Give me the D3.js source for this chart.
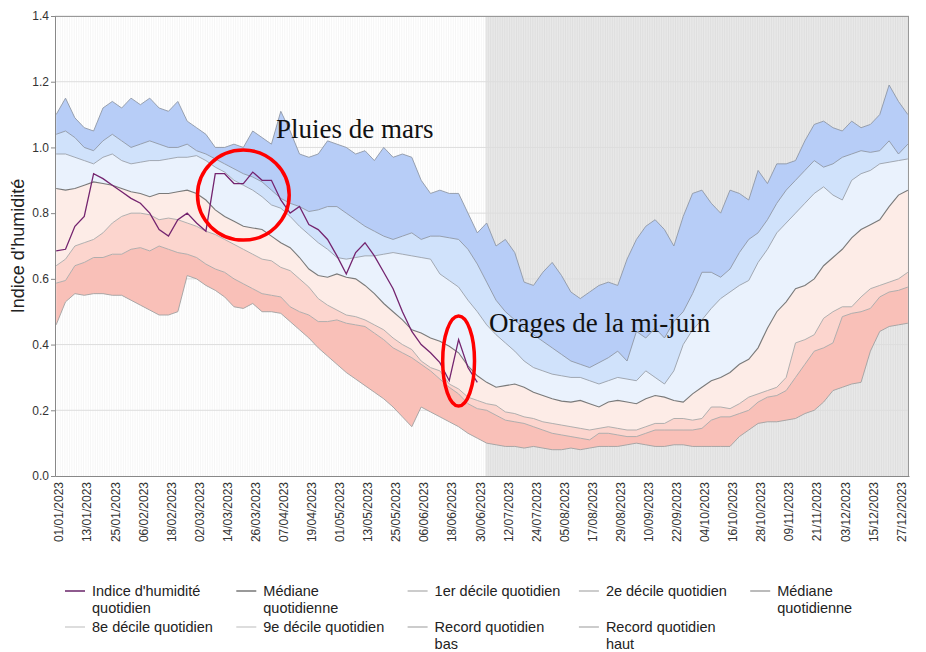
<!DOCTYPE html>
<html>
<head>
<meta charset="utf-8">
<script src="https://cdn.jsdelivr.net/npm/d3@7"></script>
<style>
  body { margin: 0; background: #fff; }
  text { font-family: "Liberation Sans", Arial, sans-serif; }
</style>
</head>
<body>
<div id="chart"></div>
<script>
// categories: every day of 2023, values are sampled every 4 days
var start = new Date(2023, 0, 1);
var days = d3.timeDay.range(start, new Date(2024, 0, 1));
var sampleDays = d3.range(0, days.length, 4);

var tickLabels = ["01/01/2023", "13/01/2023", "25/01/2023", "06/02/2023", "18/02/2023", "02/03/2023",
  "14/03/2023", "26/03/2023", "07/04/2023", "19/04/2023", "01/05/2023", "13/05/2023", "25/05/2023",
  "06/06/2023", "18/06/2023", "30/06/2023", "12/07/2023", "24/07/2023", "05/08/2023", "17/08/2023",
  "29/08/2023", "10/09/2023", "22/09/2023", "04/10/2023", "16/10/2023", "28/10/2023", "09/11/2023",
  "21/11/2023", "03/12/2023", "15/12/2023", "27/12/2023"];
var yTicks = [0, 0.2, 0.4, 0.6, 0.8, 1.0, 1.2, 1.4];

var recordHaut = [1.10, 1.15, 1.09, 1.06, 1.05, 1.12, 1.14, 1.12, 1.15, 1.13,
  1.15, 1.12, 1.11, 1.14, 1.08, 1.06, 1.04, 1.00, 1.00, 1.01,
  1.00, 1.05, 1.03, 1.01, 1.11, 1.05, 0.98, 0.97, 0.98, 1.02,
  1.01, 1.00, 0.98, 0.99, 0.96, 1.00, 0.97, 0.98, 0.97, 0.90,
  0.86, 0.87, 0.86, 0.86, 0.80, 0.74, 0.77, 0.70, 0.72, 0.68,
  0.59, 0.58, 0.62, 0.65, 0.61, 0.56, 0.54, 0.56, 0.58, 0.59,
  0.58, 0.66, 0.72, 0.76, 0.78, 0.75, 0.70, 0.79, 0.86, 0.87,
  0.83, 0.80, 0.87, 0.86, 0.84, 0.93, 0.89, 0.95, 0.95, 0.96,
  1.02, 1.07, 1.08, 1.06, 1.05, 1.08, 1.06, 1.07, 1.10, 1.19,
  1.14, 1.10];
var decile9 = [1.04, 1.05, 1.03, 1.00, 0.99, 1.02, 1.04, 1.02, 1.00, 1.01,
  1.02, 1.01, 1.00, 1.00, 1.01, 0.99, 0.98, 0.965, 0.95, 0.935,
  0.92, 0.91, 0.895, 0.87, 0.845, 0.83, 0.82, 0.805, 0.81, 0.82,
  0.82, 0.80, 0.78, 0.76, 0.745, 0.73, 0.72, 0.73, 0.74, 0.72,
  0.73, 0.73, 0.725, 0.72, 0.69, 0.645, 0.59, 0.535, 0.50, 0.475,
  0.45, 0.43, 0.41, 0.39, 0.37, 0.35, 0.34, 0.33, 0.345, 0.36,
  0.38, 0.35, 0.44, 0.42, 0.45, 0.42, 0.47, 0.50, 0.555, 0.62,
  0.62, 0.605, 0.63, 0.68, 0.72, 0.74, 0.78, 0.83, 0.87, 0.90,
  0.93, 0.96, 0.94, 0.95, 0.97, 0.98, 0.99, 0.985, 0.99, 1.02,
  0.98, 1.01];
var decile8 = [0.98, 0.98, 0.97, 0.96, 0.95, 0.97, 0.98, 0.96, 0.95, 0.955,
  0.96, 0.96, 0.965, 0.97, 0.97, 0.975, 0.96, 0.94, 0.925, 0.90,
  0.885, 0.87, 0.85, 0.825, 0.815, 0.79, 0.76, 0.735, 0.71, 0.69,
  0.665, 0.66, 0.665, 0.67, 0.67, 0.675, 0.68, 0.675, 0.67, 0.665,
  0.66, 0.615, 0.595, 0.575, 0.535, 0.50, 0.46, 0.43, 0.405, 0.38,
  0.35, 0.33, 0.32, 0.31, 0.305, 0.30, 0.30, 0.29, 0.28, 0.29,
  0.30, 0.295, 0.29, 0.32, 0.30, 0.28, 0.32, 0.40, 0.445, 0.475,
  0.51, 0.54, 0.56, 0.58, 0.595, 0.65, 0.69, 0.74, 0.77, 0.80,
  0.83, 0.86, 0.88, 0.855, 0.84, 0.90, 0.92, 0.93, 0.95, 0.955,
  0.96, 0.965];
var mediane = [0.875, 0.87, 0.875, 0.885, 0.895, 0.89, 0.885, 0.875, 0.865, 0.86,
  0.85, 0.86, 0.86, 0.865, 0.87, 0.86, 0.84, 0.81, 0.79, 0.775,
  0.76, 0.755, 0.75, 0.73, 0.71, 0.695, 0.665, 0.63, 0.61, 0.605,
  0.615, 0.605, 0.60, 0.58, 0.555, 0.525, 0.50, 0.475, 0.445, 0.435,
  0.42, 0.41, 0.395, 0.375, 0.335, 0.305, 0.285, 0.27, 0.275, 0.28,
  0.27, 0.255, 0.245, 0.235, 0.228, 0.225, 0.23, 0.22, 0.21, 0.225,
  0.23, 0.225, 0.22, 0.235, 0.245, 0.24, 0.23, 0.225, 0.25, 0.27,
  0.29, 0.30, 0.315, 0.34, 0.355, 0.39, 0.45, 0.50, 0.53, 0.57,
  0.58, 0.60, 0.64, 0.665, 0.69, 0.725, 0.75, 0.765, 0.78, 0.82,
  0.855, 0.87];
var decile2 = [0.64, 0.66, 0.70, 0.71, 0.72, 0.74, 0.77, 0.79, 0.80, 0.80,
  0.795, 0.78, 0.785, 0.78, 0.77, 0.76, 0.745, 0.735, 0.72, 0.705,
  0.69, 0.675, 0.66, 0.655, 0.635, 0.625, 0.60, 0.575, 0.54, 0.52,
  0.505, 0.49, 0.485, 0.475, 0.46, 0.445, 0.42, 0.40, 0.385, 0.35,
  0.33, 0.32, 0.28, 0.265, 0.24, 0.23, 0.22, 0.215, 0.195, 0.19,
  0.18, 0.175, 0.165, 0.16, 0.155, 0.15, 0.145, 0.14, 0.145, 0.15,
  0.145, 0.14, 0.14, 0.15, 0.16, 0.16, 0.175, 0.175, 0.17, 0.175,
  0.21, 0.21, 0.205, 0.22, 0.24, 0.25, 0.26, 0.27, 0.30, 0.405,
  0.415, 0.43, 0.48, 0.50, 0.515, 0.515, 0.545, 0.57, 0.58, 0.59,
  0.60, 0.62];
var decile1 = [0.587, 0.595, 0.64, 0.65, 0.665, 0.665, 0.675, 0.675, 0.69, 0.695,
  0.685, 0.70, 0.69, 0.68, 0.675, 0.665, 0.645, 0.63, 0.62, 0.60,
  0.585, 0.57, 0.555, 0.55, 0.545, 0.515, 0.50, 0.49, 0.47, 0.47,
  0.475, 0.465, 0.46, 0.455, 0.435, 0.415, 0.39, 0.375, 0.36, 0.34,
  0.32, 0.295, 0.27, 0.25, 0.22, 0.205, 0.20, 0.185, 0.17, 0.165,
  0.16, 0.15, 0.14, 0.13, 0.125, 0.12, 0.115, 0.11, 0.13, 0.13,
  0.125, 0.12, 0.12, 0.13, 0.14, 0.14, 0.14, 0.14, 0.14, 0.145,
  0.17, 0.18, 0.18, 0.19, 0.20, 0.225, 0.24, 0.245, 0.26, 0.30,
  0.34, 0.38, 0.39, 0.405, 0.485, 0.495, 0.50, 0.51, 0.545, 0.56,
  0.565, 0.575];
var recordBas = [0.46, 0.53, 0.555, 0.55, 0.555, 0.555, 0.55, 0.55, 0.535, 0.52,
  0.505, 0.49, 0.49, 0.50, 0.61, 0.60, 0.58, 0.565, 0.545, 0.515,
  0.51, 0.525, 0.50, 0.50, 0.495, 0.47, 0.445, 0.42, 0.39, 0.365,
  0.34, 0.315, 0.295, 0.275, 0.255, 0.235, 0.21, 0.18, 0.15, 0.21,
  0.195, 0.18, 0.165, 0.15, 0.13, 0.115, 0.10, 0.095, 0.09, 0.09,
  0.085, 0.09, 0.085, 0.08, 0.08, 0.085, 0.08, 0.085, 0.09, 0.09,
  0.09, 0.095, 0.10, 0.095, 0.09, 0.09, 0.095, 0.095, 0.09, 0.09,
  0.09, 0.09, 0.09, 0.12, 0.14, 0.16, 0.165, 0.165, 0.17, 0.175,
  0.19, 0.20, 0.225, 0.26, 0.27, 0.28, 0.285, 0.38, 0.44, 0.455,
  0.46, 0.465];
// 2023 index, up to the end of June
var humidite = [0.685, 0.69, 0.76, 0.79, 0.92, 0.905, 0.885, 0.865, 0.845, 0.83,
  0.80, 0.75, 0.73, 0.78, 0.80, 0.77, 0.745, 0.92, 0.92, 0.89,
  0.89, 0.925, 0.90, 0.90, 0.84, 0.80, 0.82, 0.765, 0.75, 0.72,
  0.67, 0.615, 0.68, 0.71, 0.67, 0.62, 0.57, 0.50, 0.44, 0.40,
  0.375, 0.345, 0.29, 0.415, 0.33, 0.285];

var legendLabels = ["Indice d'humidité quotidien", "Médiane quotidienne", "1er décile quotidien",
  "2e décile quotidien", "Médiane quotidienne", "8e décile quotidien", "9e décile quotidien",
  "Record quotidien bas", "Record quotidien haut"];
var legendColors = ["#8e5a8e", "#999", "#ccc", "#ccc", "#bbb", "#ddd", "#ddd", "#ccc", "#ccc"];

var svgWidth = 926;
var svgHeight = 652;
var chartMargin = {top: 16, right: 17, bottom: 176, left: 55};
var chartWidth = svgWidth - chartMargin.left - chartMargin.right;
var chartHeight = svgHeight - chartMargin.top - chartMargin.bottom;

var svg = d3.select("#chart").append("svg")
  .attr("width", svgWidth)
  .attr("height", svgHeight);

var chartGroup = svg.append("g")
  .attr("transform", `translate(${chartMargin.left}, ${chartMargin.top})`);

var parseDay = d3.timeParse("%d/%m/%Y");
function dayIndex(label) { return d3.timeDay.count(start, parseDay(label)); }

var x = d3.scaleBand().domain(d3.range(days.length)).range([0, chartWidth]);
function xd(i) { return x(i) + x.bandwidth() / 2; }
var y = d3.scaleLinear().domain([0, 1.4]).range([chartHeight, 0]);

var rows = sampleDays.map(function(d, i) {
  return {day: d, haut: recordHaut[i], d9: decile9[i], d8: decile8[i], med: mediane[i],
    d2: decile2[i], d1: decile1[i], bas: recordBas[i]};
});
var indexRows = humidite.map(function(v, i) { return {day: sampleDays[i], v: v}; });

// background: future part in grey, one faint line per day, horizontal grid
var shadeFrom = dayIndex("03/07/2023") + 1;
chartGroup.append("rect")
  .attr("x", x(shadeFrom))
  .attr("y", 0)
  .attr("width", chartWidth - x(shadeFrom))
  .attr("height", chartHeight)
  .attr("fill", "#e8e8e8");

chartGroup.append("g").selectAll("line")
  .data(d3.range(days.length))
  .enter().append("line")
  .attr("x1", d => x(d) + 0.5).attr("x2", d => x(d) + 0.5)
  .attr("y1", 0).attr("y2", chartHeight)
  .attr("stroke", "#000").attr("stroke-opacity", 0.04);

chartGroup.append("g").selectAll("line")
  .data(yTicks.slice(1))
  .enter().append("line")
  .attr("x1", 0).attr("x2", chartWidth)
  .attr("y1", d => y(d)).attr("y2", d => y(d))
  .attr("stroke", "#ddd").attr("stroke-width", 1);

// bands between the daily statistics
var bands = [
  ["bas", "d1", "#f9c0b8"],
  ["d1", "d2", "#fcd5ce"],
  ["d2", "med", "#fdece7"],
  ["med", "d8", "#eaf2fd"],
  ["d8", "d9", "#d0e2fb"],
  ["d9", "haut", "#b7cdf7"]
];
bands.forEach(function(b) {
  var area = d3.area()
    .x(d => xd(d.day))
    .y0(d => y(d[b[0]]))
    .y1(d => y(d[b[1]]));
  chartGroup.append("path")
    .datum(rows)
    .attr("d", area)
    .attr("fill", b[2]);
});

var statLines = [["bas", "#a0a0a0"], ["d1", "#a8a8a8"], ["d2", "#a8a8a8"], ["med", "#7a7a7a"],
  ["d8", "#9aa0aa"], ["d9", "#8f97a6"], ["haut", "#8f97a6"]];
statLines.forEach(function(s) {
  var line = d3.line().x(d => xd(d.day)).y(d => y(d[s[0]]));
  chartGroup.append("path")
    .datum(rows)
    .attr("d", line)
    .attr("fill", "none")
    .attr("stroke", s[1])
    .attr("stroke-width", s[0] === "med" ? 1.1 : 0.9);
});

chartGroup.append("path")
  .datum(indexRows)
  .attr("d", d3.line().x(d => xd(d.day)).y(d => y(d.v)))
  .attr("fill", "none")
  .attr("stroke", "#74246f")
  .attr("stroke-width", 1.3);

// frame
chartGroup.append("line").attr("x1", 0).attr("x2", chartWidth).attr("y1", 0.5).attr("y2", 0.5)
  .attr("stroke", "#999");
chartGroup.append("line").attr("x1", chartWidth - 0.5).attr("x2", chartWidth - 0.5)
  .attr("y1", 0).attr("y2", chartHeight).attr("stroke", "#999");

// axes
var leftAxis = d3.axisLeft(y).tickValues(yTicks).tickFormat(d3.format(".1f")).tickSize(4).tickPadding(2);
var yAxis = chartGroup.append("g").call(leftAxis);
yAxis.select(".domain").attr("stroke", "#888");
yAxis.selectAll(".tick line").attr("stroke", "#888");
yAxis.selectAll("text").attr("fill", "#333").style("font-size", "12px");

var bottomAxis = d3.axisBottom(x)
  .tickValues(tickLabels.map(dayIndex))
  .tickFormat(function(d, i) { return tickLabels[i]; })
  .tickSize(0);
var xAxis = chartGroup.append("g")
  .attr("transform", `translate(0, ${chartHeight})`)
  .call(bottomAxis);
xAxis.select(".domain").attr("stroke", "#888");
xAxis.selectAll("text")
  .attr("transform", "rotate(-90)")
  .attr("text-anchor", "end")
  .attr("x", -6)
  .attr("y", 3)
  .attr("dy", "0.35em")
  .attr("fill", "#333")
  .style("font-size", "12px");

chartGroup.append("text")
  .attr("transform", "rotate(-90)")
  .attr("x", -chartHeight / 2)
  .attr("y", -chartMargin.left + 24)
  .attr("text-anchor", "middle")
  .attr("fill", "#222")
  .style("font-size", "18px")
  .text("Indice d'humidité");

// annotations
var circles = [{day: 80, v: 0.855, rd: 19.6, rv: 0.137}, {day: 172, v: 0.35, rd: 6.8, rv: 0.137}];
chartGroup.selectAll(".mark-circle")
  .data(circles)
  .enter().append("ellipse")
  .attr("cx", d => xd(d.day))
  .attr("cy", d => y(d.v))
  .attr("rx", d => d.rd * x.step())
  .attr("ry", d => y(0) - y(d.rv))
  .attr("fill", "none")
  .attr("stroke", "#f00")
  .attr("stroke-width", 3.5);

var notes = [{day: 94, v: 1.03, label: "Pluies de mars"}, {day: 185, v: 0.438, label: "Orages de la mi-juin"}];
chartGroup.selectAll(".note")
  .data(notes)
  .enter().append("text")
  .attr("x", d => xd(d.day))
  .attr("y", d => y(d.v))
  .style("font-family", "'Liberation Serif', 'DejaVu Serif', serif")
  .style("font-size", "27px")
  .attr("fill", "#111")
  .text(d => d.label);

// legend
var legend = svg.append("g");
legendLabels.forEach(function(label, i) {
  var col = i % 5, row = Math.floor(i / 5);
  var lx = 65 + col * 171.3, ly = 591 + row * 36;
  legend.append("line")
    .attr("x1", lx).attr("x2", lx + 20)
    .attr("y1", ly).attr("y2", ly)
    .attr("stroke", legendColors[i]).attr("stroke-width", 2);
  var t = legend.append("text")
    .attr("x", lx + 27).attr("y", ly + 5)
    .attr("fill", "#222")
    .style("font-size", "14.5px");
  var words = label.split(" ");
  var tspan = t.append("tspan").attr("x", lx + 27).attr("dy", 0);
  var current = [];
  words.forEach(function(w) {
    current.push(w);
    tspan.text(current.join(" "));
    if (tspan.node().getComputedTextLength() > 130 && current.length > 1) {
      current.pop();
      tspan.text(current.join(" "));
      current = [w];
      tspan = t.append("tspan").attr("x", lx + 27).attr("dy", 17).text(w);
    }
  });
});
</script>
</body>
</html>
